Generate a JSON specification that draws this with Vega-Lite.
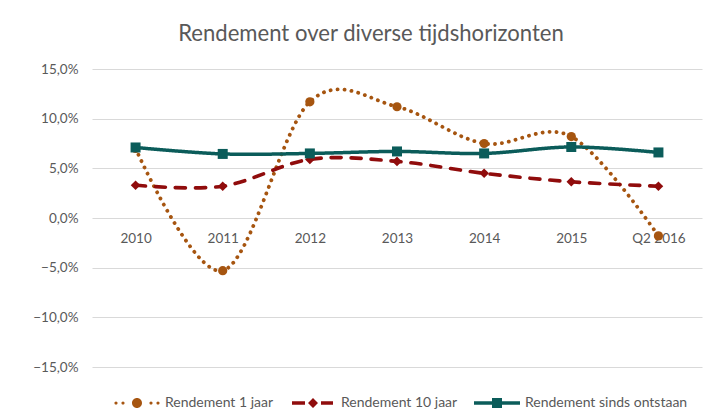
{
  "$schema": "https://vega.github.io/schema/vega-lite/v6.json",
  "autosize": {"type": "none"},
  "width": 610,
  "height": 298,
  "padding": {"left": 92, "top": 69, "right": 20, "bottom": 48},
  "background": "white",
  "title": {
    "text": "Rendement over diverse tijdshorizonten",
    "font": "Lato",
    "fontSize": 22.1,
    "fontWeight": "normal",
    "color": "#595959",
    "anchor": "middle",
    "frame": "group",
    "dx": -26,
    "baseline": "alphabetic",
    "offset": -1
  },
  "data": {
    "values": [
      {"year": "2010", "series": "Rendement 1 jaar", "value": 7.0},
      {"year": "2011", "series": "Rendement 1 jaar", "value": -5.3},
      {"year": "2012", "series": "Rendement 1 jaar", "value": 11.7},
      {"year": "2013", "series": "Rendement 1 jaar", "value": 11.2},
      {"year": "2014", "series": "Rendement 1 jaar", "value": 7.5},
      {"year": "2015", "series": "Rendement 1 jaar", "value": 8.2},
      {"year": "Q2 2016", "series": "Rendement 1 jaar", "value": -1.8},
      {"year": "2010", "series": "Rendement 10 jaar", "value": 3.3},
      {"year": "2011", "series": "Rendement 10 jaar", "value": 3.2},
      {"year": "2012", "series": "Rendement 10 jaar", "value": 5.9},
      {"year": "2013", "series": "Rendement 10 jaar", "value": 5.7},
      {"year": "2014", "series": "Rendement 10 jaar", "value": 4.5},
      {"year": "2015", "series": "Rendement 10 jaar", "value": 3.65},
      {"year": "Q2 2016", "series": "Rendement 10 jaar", "value": 3.2},
      {"year": "2010", "series": "Rendement sinds ontstaan", "value": 7.1},
      {"year": "2011", "series": "Rendement sinds ontstaan", "value": 6.45},
      {"year": "2012", "series": "Rendement sinds ontstaan", "value": 6.5},
      {"year": "2013", "series": "Rendement sinds ontstaan", "value": 6.7},
      {"year": "2014", "series": "Rendement sinds ontstaan", "value": 6.5},
      {"year": "2015", "series": "Rendement sinds ontstaan", "value": 7.15},
      {"year": "Q2 2016", "series": "Rendement sinds ontstaan", "value": 6.6}
    ]
  },
  "encoding": {
    "x": {
      "field": "year",
      "type": "ordinal",
      "scale": {"type": "point", "padding": 0.5, "domain": ["2010", "2011", "2012", "2013", "2014", "2015", "Q2 2016"]},
      "axis": {
        "title": null,
        "orient": "bottom",
        "offset": -149,
        "domain": false,
        "ticks": false,
        "grid": false,
        "labelAngle": 0,
        "labelPadding": 13,
        "labelFont": "Lato",
        "labelFontSize": 13.5,
        "labelColor": "#595959"
      }
    },
    "y": {
      "field": "value",
      "type": "quantitative",
      "scale": {"domain": [-15, 15], "nice": false, "zero": false},
      "axis": {
        "title": null,
        "values": [-15, -10, -5, 0, 5, 10, 15],
        "labelExpr": "replace(format(datum.value, '.1f'), '.', ',') + '%'",
        "domain": false,
        "ticks": false,
        "grid": true,
        "gridColor": "#D9D9D9",
        "gridWidth": 1,
        "labelPadding": 14,
        "labelFont": "Lato",
        "labelFontSize": 13.5,
        "labelColor": "#595959"
      }
    },
    "color": {
      "field": "series",
      "type": "nominal",
      "scale": {
        "domain": ["Rendement 1 jaar", "Rendement 10 jaar", "Rendement sinds ontstaan"],
        "range": ["#A65510", "#900C0C", "#0B5C5A"]
      },
      "legend": {
        "title": null,
        "orient": "none",
        "legendX": 15,
        "legendY": 327,
        "direction": "horizontal",
        "padding": 0,
        "symbolSize": 4,
        "symbolOffset": 23,
        "labelOffset": 21,
        "columnPadding": 9,
        "symbolStrokeWidth": 0,
        "labelFont": "Lato",
        "labelFontSize": 14,
        "labelColor": "#595959",
        "labelLimit": 300,
        "encode": {
          "symbols": {
            "update": {
              "shape": {"signal": "datum.value === 'Rendement 1 jaar' ? 'M-22.6,0a1.6,1.6 0 1,0 3.2,0a1.6,1.6 0 1,0 -3.2,0Z M-15.6,0a1.6,1.6 0 1,0 3.2,0a1.6,1.6 0 1,0 -3.2,0Z M-5,0a5,5 0 1,0 10,0a5,5 0 1,0 -10,0Z M12.4,0a1.6,1.6 0 1,0 3.2,0a1.6,1.6 0 1,0 -3.2,0Z M19.4,0a1.6,1.6 0 1,0 3.2,0a1.6,1.6 0 1,0 -3.2,0Z' : datum.value === 'Rendement 10 jaar' ? 'M-21,-1.8H-8V1.8H-21Z M-5,0L0,-5L5,0L0,5Z M8,-1.8H20V1.8H8Z' : 'M-23,-1.8H23V1.8H-23Z M-5,-5H5V5H-5Z'"},
              "size": {"value": 4},
              "strokeWidth": {"value": 0},
              "opacity": {"value": 1}
            }
          }
        }
      }
    }
  },
  "layer": [
    {
      "mark": {"type": "line", "interpolate": "cardinal", "strokeCap": "round"},
      "encoding": {
        "strokeDash": {
          "field": "series",
          "type": "nominal",
          "scale": {
            "domain": ["Rendement sinds ontstaan", "Rendement 10 jaar", "Rendement 1 jaar"],
            "range": [[1, 0], [10, 10], [0.1, 6.9]]
          },
          "legend": null
        },
        "strokeWidth": {
          "field": "series",
          "type": "nominal",
          "scale": {
            "domain": ["Rendement sinds ontstaan", "Rendement 10 jaar", "Rendement 1 jaar"],
            "range": [3.5, 3.8, 3]
          },
          "legend": null
        }
      }
    },
    {
      "mark": {"type": "point", "filled": true, "opacity": 1},
      "encoding": {
        "shape": {
          "field": "series",
          "type": "nominal",
          "scale": {
            "domain": ["Rendement sinds ontstaan", "Rendement 10 jaar", "Rendement 1 jaar"],
            "range": ["square", "diamond", "circle"]
          },
          "legend": null
        },
        "size": {
          "field": "series",
          "type": "nominal",
          "scale": {
            "domain": ["Rendement sinds ontstaan", "Rendement 10 jaar", "Rendement 1 jaar"],
            "range": [100, 85, 100]
          },
          "legend": null
        }
      }
    }
  ],
  "config": {"view": {"stroke": null}}
}
